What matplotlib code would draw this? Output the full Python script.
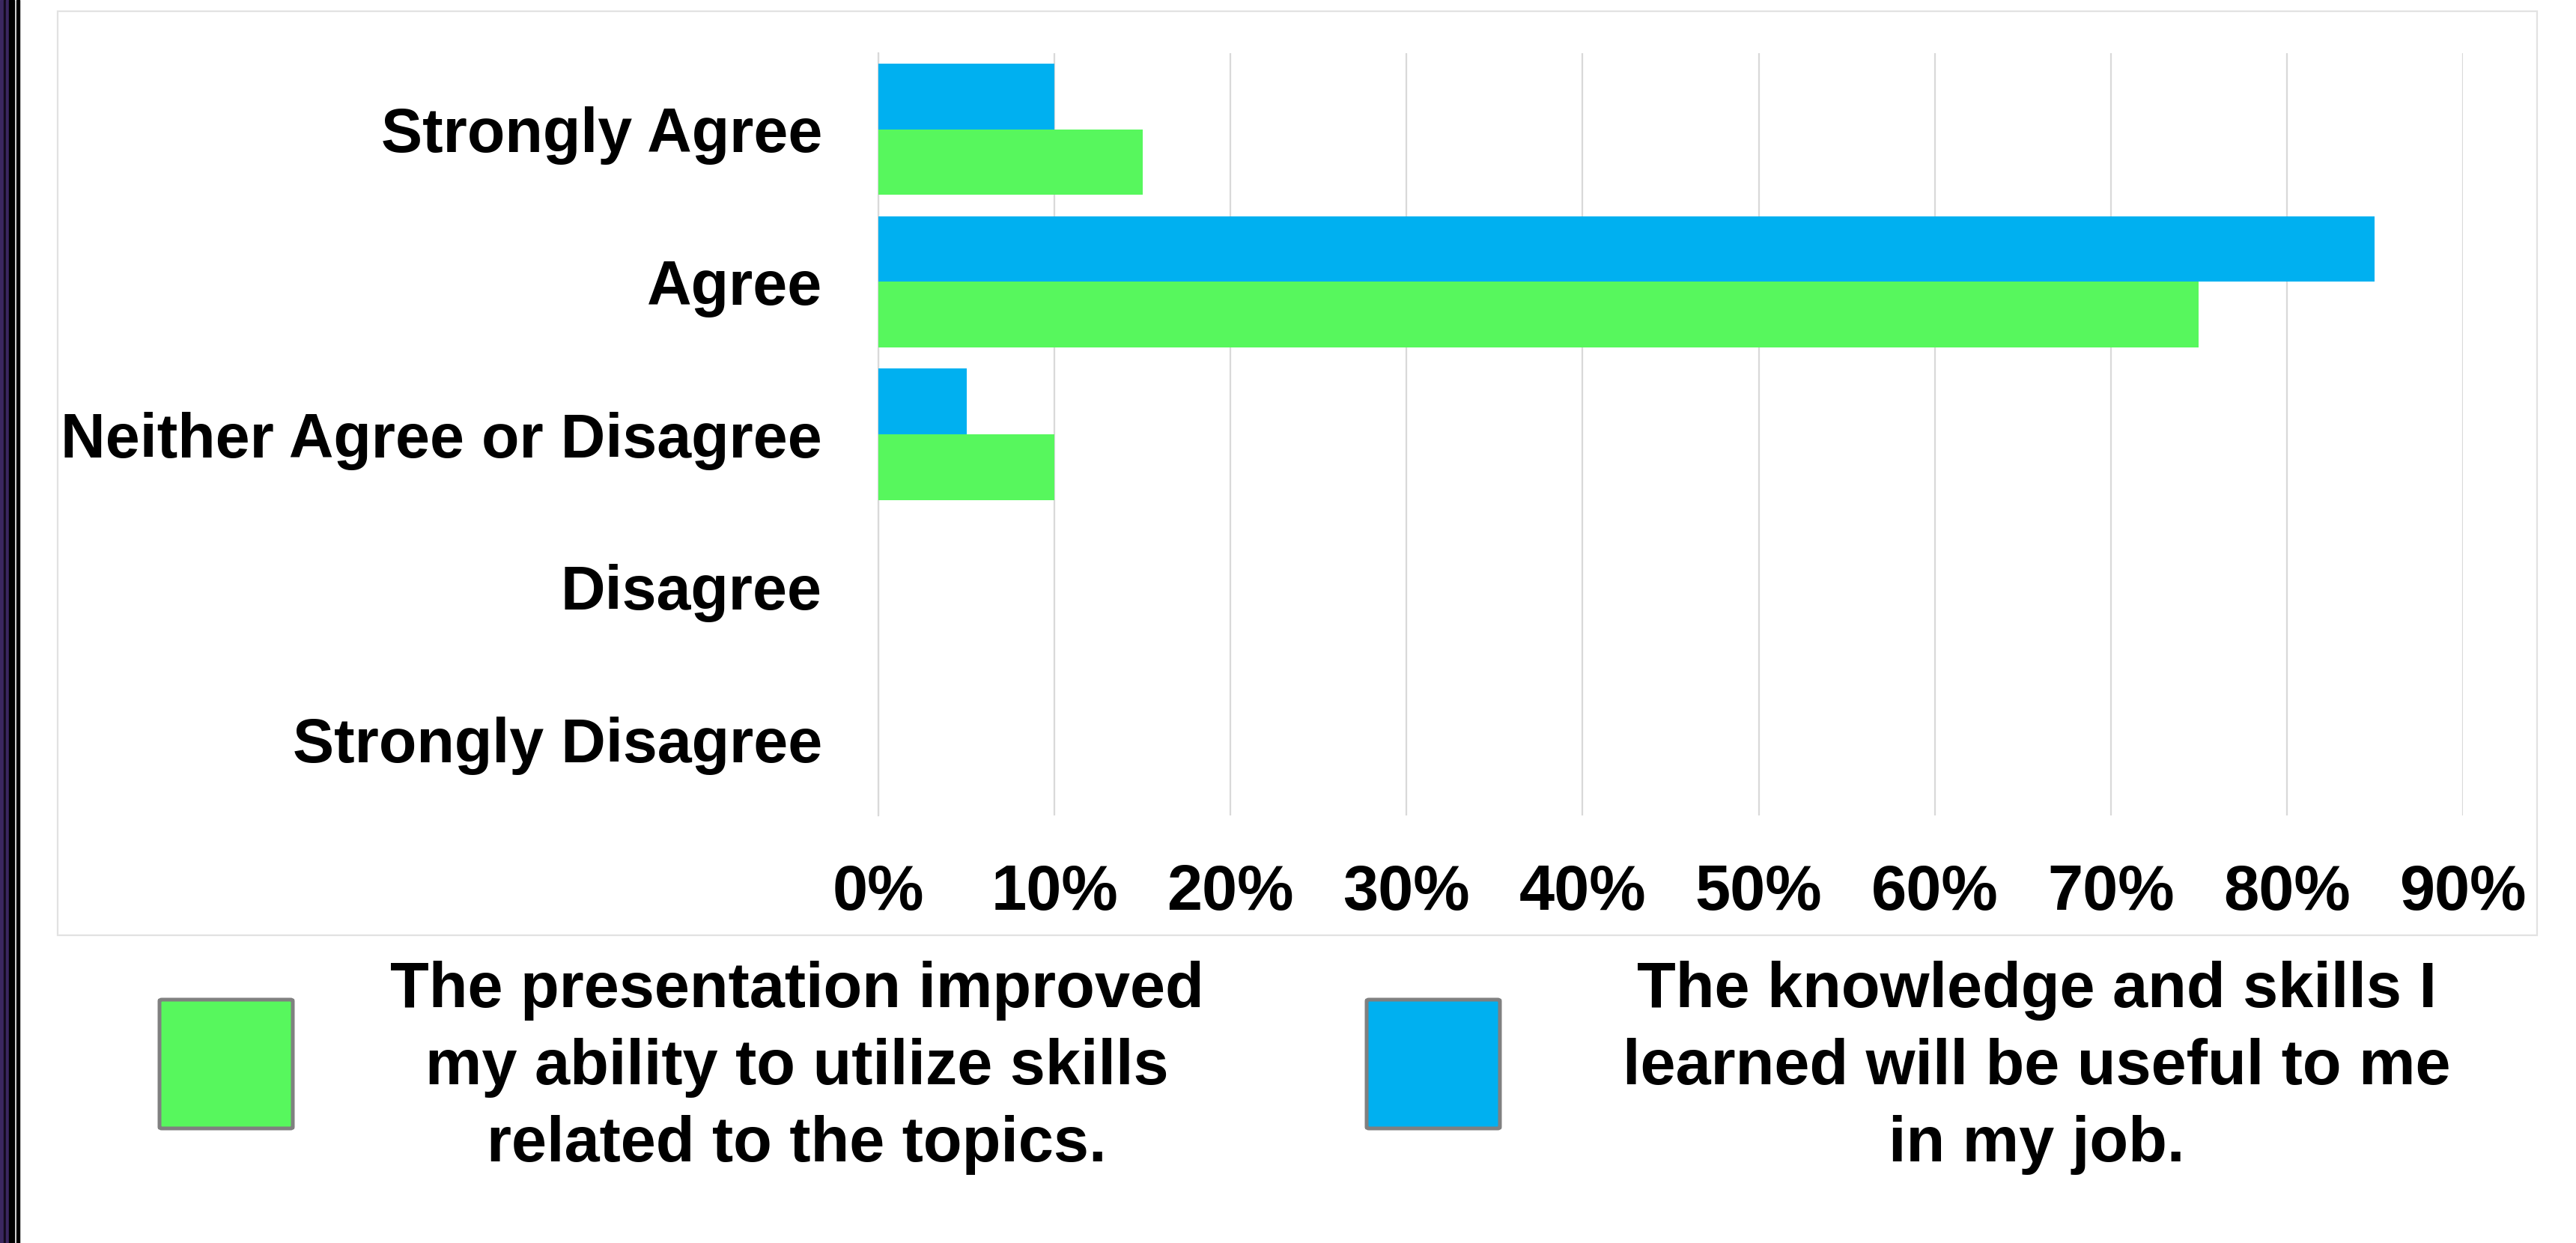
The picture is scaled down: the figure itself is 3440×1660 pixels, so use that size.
import numpy as np
import matplotlib
matplotlib.use('Agg')
from matplotlib import pyplot as plt
from matplotlib.patches import Rectangle, FancyBboxPatch

# data
categories = ['Strongly Agree', 'Agree', 'Neither Agree or Disagree',
              'Disagree', 'Strongly Disagree']
improved = [0.15, 0.75, 0.10, 0.0, 0.0]   # green series
useful = [0.10, 0.85, 0.05, 0.0, 0.0]     # blue series
ticks = [0, 0.1, 0.2, 0.3, 0.4, 0.5, 0.6, 0.7, 0.8, 0.9]
legend_labels = ['The presentation improved\nmy ability to utilize skills\nrelated to the topics.',
                 'The knowledge and skills I\nlearned will be useful to me\nin my job.']

green = '#57f75d'
blue = '#00b0f0'
W, H = 3440, 1660

plt.rcParams['font.family'] = ['Liberation Sans', 'DejaVu Sans']
plt.rcParams['font.weight'] = 'bold'

fig = plt.figure(figsize=(W / 100, H / 100), dpi=100)
fig.patch.set_facecolor('white')

# left edge stripes of the slide
for x0, x1, c in [(0, 5, '#3b2760'), (5, 8, '#120a1c'), (8, 12, '#3b2760'),
                  (12, 19, '#000000'), (22, 26, '#000000')]:
    fig.patches.append(Rectangle((x0 / W, 0), (x1 - x0) / W, 1,
                                 transform=fig.transFigure, color=c, zorder=0))

# chart frame
fig.patches.append(Rectangle((77 / W, 1 - 1249 / H), (3388 - 77) / W, (1249 - 15) / H,
                             transform=fig.transFigure, facecolor='none',
                             edgecolor='#e2e2e2', linewidth=1.6, zorder=0))

ax = fig.add_axes([1173 / W, 1 - 1089 / H, (3289 - 1173) / W, (1089 - 71) / H])
y = np.arange(len(categories))
bh = 0.43
ax.barh(y - bh / 2, useful, height=bh, color=blue, zorder=3)
ax.barh(y + bh / 2, improved, height=bh, color=green, zorder=3)

ax.set_xlim(0, 0.9)
ax.set_ylim(len(categories) - 0.5, -0.5)
ax.set_xticks(ticks)
ax.set_xticklabels(['%d%%' % round(t * 100) for t in ticks])
ax.set_yticks(y)
ax.set_yticklabels(categories)
ax.tick_params(axis='both', length=0)
ax.tick_params(axis='x', pad=46, labelsize=61)
ax.tick_params(axis='y', pad=54, labelsize=59.5)
for lab in ax.get_xticklabels() + ax.get_yticklabels():
    lab.set_fontweight('bold')
ax.grid(axis='x', color='#d9d9d9', linewidth=1.6, zorder=0)
for s in ['top', 'right', 'bottom']:
    ax.spines[s].set_visible(False)
ax.spines['left'].set_color('#d9d9d9')
ax.spines['left'].set_linewidth(1.6)

# legend drawn by hand, laid out like the original
boxes = [(213, green), (1825, blue)]
text_x = [1064, 2720]
line_y = [1323, 1426, 1529]
for (bx, col), tx, label in zip(boxes, text_x, legend_labels):
    fig.patches.append(FancyBboxPatch((bx / W, 1 - 1507 / H), 178 / W, 172 / H,
                                      boxstyle='round,pad=0,rounding_size=0.001',
                                      transform=fig.transFigure, facecolor=col,
                                      edgecolor='#808080', linewidth=3.6))
    for ly, line in zip(line_y, label.split('\n')):
        fig.text(tx / W, 1 - ly / H, line, ha='center', va='center',
                 fontsize=61, fontweight='bold')

fig.savefig('out.png', dpi=100)
